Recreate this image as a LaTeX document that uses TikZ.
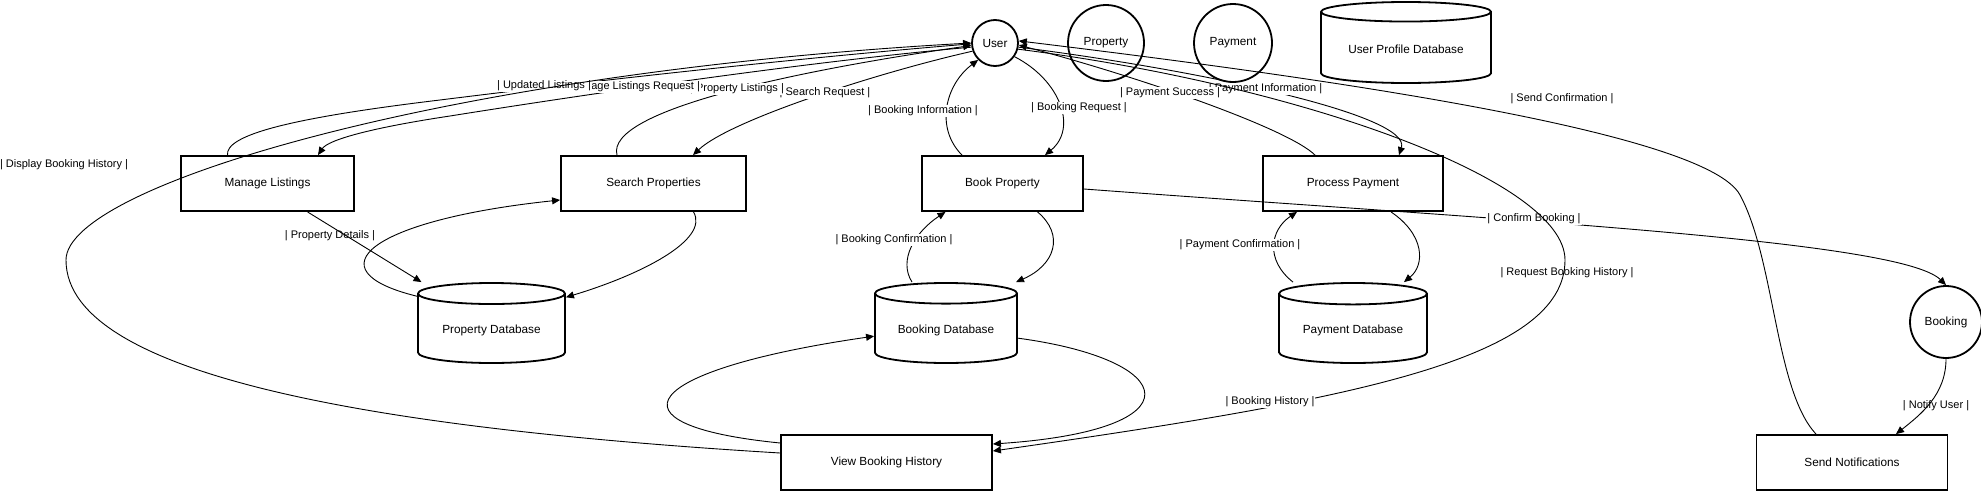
\documentclass[tikz,border=0pt]{standalone}
\usepackage{fontspec}
\setmainfont{Liberation Sans}
\usetikzlibrary{shapes.geometric, arrows.meta}

\begin{document}
\begin{tikzpicture}[
  x=1pt, y=-1pt,
  proc/.style={rectangle, draw, line width=1.8pt, minimum height=55pt, font=\fontsize{11.8}{14}\selectfont},
  ent/.style={circle, draw, line width=1.8pt, inner sep=0pt, font=\fontsize{11.8}{14}\selectfont},
  db/.style={cylinder, shape border rotate=90, draw, line width=1.8pt, aspect=0.2, minimum height=80pt, anchor=shape center, font=\fontsize{11.8}{14}\selectfont},
  lbl/.style={fill=white, inner sep=1pt, font=\fontsize{11}{13}\selectfont},
  flow/.style={draw, line width=0.9pt, -{Triangle[length=8pt, width=7pt]}}
]
\useasboundingbox (0,0) rectangle (1981,490);

\node[ent, minimum size=46pt] (user) at (995,43) {User};
\node[ent, minimum size=76pt] (property) at (1106,43) {Property};
\node[ent, minimum size=78pt] (payment) at (1233,43) {Payment};
\node[db, minimum width=170pt, minimum height=81pt, aspect=0.16] (userdb) at (1406,42.5) {User Profile Database};

\node[proc, minimum width=173pt] (manage) at (267.5,183.5) {Manage Listings};
\node[proc, minimum width=185pt] (search) at (653.5,183.5) {Search Properties};
\node[proc, minimum width=161pt] (book) at (1002.5,183.5) {Book Property};
\node[proc, minimum width=180pt] (process) at (1353,183.5) {Process Payment};

\node[db, minimum width=147pt] (propdb) at (491.5,323) {Property Database};
\node[db, minimum width=142pt] (bookdb) at (946,323) {Booking Database};
\node[db, minimum width=148pt] (paydb) at (1353,323) {Payment Database};
\node[ent, minimum size=72pt] (booking) at (1946,322) {Booking};

\node[proc, minimum width=211pt] (view) at (886.5,462.5) {View Booking History};
\node[proc, minimum width=191pt] (send) at (1852,462.5) {Send Notifications};

\draw[flow] ([xshift=-40pt]manage.north) .. controls (225,135) and (290,118) .. (440,100) .. controls (600,80) and (800,58) .. (user.182);
\draw[flow] (user.190) .. controls (800,62) and (550,100) .. (450,116) .. controls (370,128) and (328,140) .. ([xshift=50.5pt]manage.north);
\draw[flow] ([xshift=-36.5pt]search.north) .. controls (605,110) and (800,70) .. (user.186);
\draw[flow] (user.200) .. controls (880,72) and (730,120) .. ([xshift=39.5pt]search.north);
\draw[flow] ([xshift=-40.5pt]book.north) .. controls (935,128) and (945,85) .. (user.225);
\draw[flow] (user.-35) .. controls (1060,80) and (1078,128) .. ([xshift=42.5pt]book.north);
\draw[flow] ([xshift=-38pt]process.north) .. controls (1290,130) and (1150,80) .. (user.-5);
\draw[flow] (user.-10) .. controls (1200,70) and (1412,115) .. ([xshift=46pt]process.north);
\draw[flow] ([yshift=-5.5pt]book.east) .. controls (1500,220) and (1900,240) .. (booking.north);
\draw[flow] ([xshift=40pt]search.south) .. controls (710,240) and (640,275) .. ([yshift=33pt]propdb.east);
\draw[flow] ([yshift=34pt]propdb.west) .. controls (310,270) and (370,220) .. ([yshift=-16.5pt]search.west);
\draw[flow] ([xshift=35pt]book.south) .. controls (1065,235) and (1055,265) .. ([xshift=70pt]bookdb.north);
\draw[flow] ([xshift=-34pt]bookdb.north) .. controls (898,260) and (915,232) .. ([xshift=-57pt]book.south);
\draw[flow] ([xshift=38pt]process.south) .. controls (1425,235) and (1425,265) .. ([xshift=51pt]paydb.north);
\draw[flow] ([xshift=-60pt]paydb.north) .. controls (1265,260) and (1270,230) .. ([xshift=-56pt]process.south);
\draw[flow] ([yshift=19.5pt]view.west) .. controls (600,425) and (640,370) .. ([yshift=-6pt]bookdb.west);
\draw[flow] ([yshift=-8pt]bookdb.east) .. controls (1180,360) and (1200,430) .. ([yshift=18.5pt]view.east);

\node[lbl] (lsearch) at (825,93) {| Search Request |};
\node[lbl] (lproplist) at (737,89) {| Property Listings |};
\node[lbl] (lmanagereq) at (632,87) {| Manage Listings Request |};
\node[lbl] (lupdated) at (544,86) {| Updated Listings |};
\node[lbl] (lbookinfo) at (923,111) {| Booking Information |};
\node[lbl] (lbookreq) at (1079,108) {| Booking Request |};
\node[lbl] (lpayinfo) at (1265.5,89) {| Payment Information |};
\node[lbl] (lpaysucc) at (1170,93) {| Payment Success |};
\node[lbl] (lsendconf) at (1562,99) {| Send Confirmation |};
\node[lbl] (lconfbook) at (1534,219) {| Confirm Booking |};
\node[lbl] (lpropdet) at (330,236) {| Property Details |};
\node[lbl] (ldisplay) at (64,165) {| Display Booking History |};
\node[lbl] (lbookconf) at (894,240) {| Booking Confirmation |};
\node[lbl] (lpayconf) at (1240,245) {| Payment Confirmation |};
\node[lbl] (lreqhist) at (1567,273) {| Request Booking History |};
\node[lbl] (lnotify) at (1936,406) {| Notify User |};

\draw[flow] ([yshift=9.5pt]view.west) .. controls (400,430) and (66,380) .. (66,260) .. controls (66,185) and (450,72) .. (user.180);
\draw[flow] ([xshift=-36pt]send.north) .. controls (1775,390) and (1775,260) .. (1740,195) .. controls (1705,130) and (1300,75) .. (user.5);
\draw[flow] (user.-15) .. controls (1300,85) and (1565,180) .. (1565,260) .. controls (1565,360) and (1350,400) .. ([yshift=11.5pt]view.east);
\draw[flow] ([xshift=40pt]manage.south) -- ([xshift=-70pt]propdb.north);
\draw[flow] (booking.south) .. controls (1946,395) and (1920,415) .. ([xshift=44pt]send.north);

\node[lbl] (lhist) at (1270,402) {| Booking History |};
\end{tikzpicture}
\end{document}
